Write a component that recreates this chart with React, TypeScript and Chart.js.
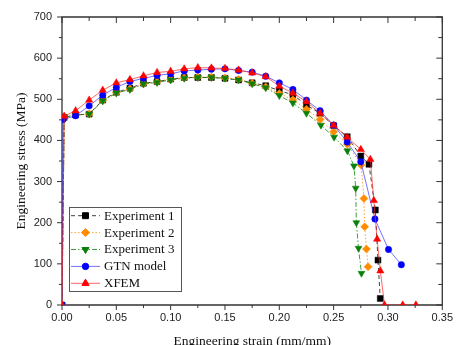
import React, { useEffect, useRef } from 'react';
import { Chart, registerables } from 'chart.js';
import { drawPoint } from 'chart.js/helpers';

Chart.register(...registerables);

// ---- data ----
const exp1Strain = [0, 0.002, 0.0125, 0.025, 0.0375, 0.05, 0.0625, 0.075, 0.0875, 0.1, 0.1125, 0.125, 0.1375, 0.15, 0.1625, 0.175, 0.1875, 0.2, 0.2125, 0.225, 0.2375, 0.25, 0.2625, 0.275, 0.2825, 0.2884, 0.2908, 0.2929];
const exp1Stress = [0, 456, 462, 464, 498, 517, 527, 539, 543, 549, 553, 553, 553, 551, 547, 540, 533, 521, 511, 486, 466, 436, 409, 362, 342, 231, 109, 16];

const exp2Strain = [0, 0.002, 0.0125, 0.025, 0.0375, 0.05, 0.0625, 0.075, 0.0875, 0.1, 0.1125, 0.125, 0.1375, 0.15, 0.1625, 0.175, 0.1875, 0.2, 0.2125, 0.225, 0.2375, 0.25, 0.2626, 0.2752, 0.2779, 0.2786, 0.2802, 0.2817];
const exp2Stress = [0, 456, 462, 464, 497, 516, 525, 538, 542, 548, 552, 554, 554, 552, 548, 539, 530, 514, 499, 476, 451, 421, 391, 340, 259, 190, 136, 93];

const exp3Strain = [0, 0.002, 0.0125, 0.025, 0.0375, 0.05, 0.0625, 0.075, 0.0875, 0.1, 0.1125, 0.125, 0.1375, 0.15, 0.1625, 0.175, 0.1875, 0.2, 0.2125, 0.225, 0.2383, 0.2504, 0.2626, 0.2687, 0.2703, 0.2709, 0.2729, 0.2756];
const exp3Stress = [0, 456, 462, 464, 496, 515, 524, 537, 541, 547, 551, 553, 553, 551, 547, 538, 528, 509, 491, 466, 437, 408, 375, 338, 284, 200, 138, 77];

const gtnStrain = [0, 0.001, 0.0125, 0.025, 0.0375, 0.05, 0.0625, 0.075, 0.0875, 0.1, 0.1125, 0.125, 0.1375, 0.15, 0.1625, 0.175, 0.1875, 0.2, 0.2125, 0.225, 0.2375, 0.25, 0.2625, 0.275, 0.288, 0.3005, 0.3123];
const gtnStress = [0, 451, 460, 484, 510, 529, 543, 551, 558, 562, 569, 571, 573, 574, 570, 566, 556, 540, 524, 498, 472, 437, 396, 348, 209, 135, 98];

const xfemStrain = [0, 0.002, 0.0125, 0.025, 0.0375, 0.05, 0.0625, 0.075, 0.0875, 0.1, 0.1125, 0.125, 0.1375, 0.15, 0.1625, 0.175, 0.1875, 0.2, 0.2125, 0.225, 0.2375, 0.25, 0.2625, 0.275, 0.2838, 0.287, 0.29, 0.293, 0.2968, 0.3136, 0.3257];
const xfemStress = [0, 459, 472, 498, 522, 540, 548, 557, 565, 568, 574, 577, 576, 575, 571, 564, 555, 532, 515, 494, 466, 437, 408, 378, 354, 254, 160, 83, 0, 0, 0];

const seriesLabels = ['Experiment 1', 'Experiment 2', 'Experiment 3', 'GTN model', 'XFEM'];

const xTickValues = [0, 0.05, 0.1, 0.15, 0.2, 0.25, 0.3, 0.35];
const xTickLabels = ['0.00', '0.05', '0.10', '0.15', '0.20', '0.25', '0.30', '0.35'];
const yTickValues = [0, 100, 200, 300, 400, 500, 600, 700];
const yTickLabels = ['0', '100', '200', '300', '400', '500', '600', '700'];
const xMinorStep = 0.025;
const yMinorStep = 50;

const xTitle = 'Engineering strain (mm/mm)';
const yTitle = 'Engineering stress (MPa)';

const toPts = (xs: number[], ys: number[]) => xs.map((x, i) => ({ x, y: ys[i] }));

const framePlugin = {
  id: 'frameTicks',
  beforeDatasetsDraw(chart: any) {
    const { ctx, chartArea, scales } = chart;
    const { left, right, top, bottom } = chartArea;
    const xs = scales.x;
    const ys = scales.y;
    ctx.save();
    ctx.strokeStyle = '#333';
    ctx.lineWidth = 1.3;
    ctx.beginPath();
    ctx.rect(left, top, right - left, bottom - top);
    ctx.stroke();
    ctx.lineWidth = 1;
    ctx.beginPath();
    const nx = Math.round((xs.max - xs.min) / xMinorStep);
    for (let i = 0; i <= nx; i++) {
      const px = xs.getPixelForValue(xs.min + i * xMinorStep);
      const len = i % 2 === 0 ? 5 : 3;
      ctx.moveTo(px, bottom);
      ctx.lineTo(px, bottom + len);
      const lenTop = i % 2 === 0 ? 6 : 4;
      ctx.moveTo(px, top);
      ctx.lineTo(px, top + lenTop);
    }
    const ny = Math.round((ys.max - ys.min) / yMinorStep);
    for (let i = 0; i <= ny; i++) {
      const py = ys.getPixelForValue(ys.min + i * yMinorStep);
      const len = i % 2 === 0 ? 5 : 3;
      ctx.moveTo(left - len, py);
      ctx.lineTo(left, py);
      ctx.moveTo(right - len - 1, py);
      ctx.lineTo(right, py);
    }
    ctx.stroke();
    ctx.restore();
  },
};

const legendPlugin = {
  id: 'insideLegend',
  afterDatasetsDraw(chart: any) {
    const { ctx } = chart;
    const bx = 69, by = 207, bw = 112, bh = 84;
    ctx.save();
    ctx.fillStyle = '#fff';
    ctx.fillRect(bx, by, bw, bh);
    ctx.strokeStyle = '#555';
    ctx.lineWidth = 1;
    ctx.strokeRect(bx + 0.5, by + 0.5, bw, bh);
    chart.data.datasets.forEach((ds: any, i: number) => {
      const y = 215.7 + i * 16.9;
      ctx.save();
      ctx.strokeStyle = ds.borderColor;
      ctx.lineWidth = 1;
      ctx.setLineDash(ds.borderDash || []);
      ctx.beginPath();
      ctx.moveTo(71, y);
      ctx.lineTo(100, y);
      ctx.stroke();
      ctx.setLineDash([]);
      ctx.fillStyle = ds.pointBackgroundColor;
      ctx.strokeStyle = ds.pointBorderColor;
      drawPoint(ctx, {
        pointStyle: ds.pointStyle,
        radius: ds.pointRadius,
        rotation: ds.pointRotation || 0,
        borderWidth: ds.pointBorderWidth,
      }, 85.5, y);
      ctx.restore();
      ctx.fillStyle = '#111';
      ctx.font = '13px "Liberation Serif", "Times New Roman", serif';
      ctx.textBaseline = 'middle';
      ctx.textAlign = 'left';
      ctx.fillText(ds.label, 104, y + 0.5);
    });
    ctx.restore();
  },
};

export default function App() {
  const ref = useRef<HTMLCanvasElement | null>(null);

  useEffect(() => {
    if (!ref.current) return;
    const tickFont = { family: '"Liberation Sans", Arial, sans-serif', size: 11 };
    const titleFont = { family: '"Liberation Serif", "Times New Roman", serif', size: 13.5 };
    const chart = new Chart(ref.current, {
      type: 'scatter',
      data: {
        datasets: [
          {
            label: seriesLabels[0],
            data: toPts(exp1Strain, exp1Stress),
            showLine: true,
            borderColor: 'rgba(0,0,0,0.75)',
            borderWidth: 1,
            borderDash: [4, 3],
            pointStyle: 'rect',
            pointRadius: 4.2,
            pointBackgroundColor: '#000',
            pointBorderColor: '#000',
            pointBorderWidth: 0.5,
            order: 4,
          },
          {
            label: seriesLabels[1],
            data: toPts(exp2Strain, exp2Stress),
            showLine: true,
            borderColor: 'rgba(255,140,0,0.8)',
            borderWidth: 1,
            borderDash: [1.5, 2],
            pointStyle: 'rectRot',
            pointRadius: 4,
            pointBackgroundColor: '#ff8c00',
            pointBorderColor: '#ff8c00',
            pointBorderWidth: 0.5,
            order: 3,
          },
          {
            label: seriesLabels[2],
            data: toPts(exp3Strain, exp3Stress),
            showLine: true,
            borderColor: 'rgba(0,128,0,0.75)',
            borderWidth: 1,
            borderDash: [5, 2, 1.5, 2],
            pointStyle: 'triangle',
            pointRotation: 180,
            pointRadius: 4,
            pointBackgroundColor: '#0a800a',
            pointBorderColor: '#0a800a',
            pointBorderWidth: 0.5,
            order: 2,
          },
          {
            label: seriesLabels[3],
            data: toPts(gtnStrain, gtnStress),
            showLine: true,
            borderColor: 'rgba(40,40,255,0.65)',
            borderWidth: 1,
            pointStyle: 'circle',
            pointRadius: 3.2,
            pointBackgroundColor: '#0000ff',
            pointBorderColor: '#0000ff',
            pointBorderWidth: 0.5,
            order: 1,
          },
          {
            label: seriesLabels[4],
            data: toPts(xfemStrain, xfemStress),
            showLine: true,
            borderColor: 'rgba(255,40,40,0.7)',
            borderWidth: 1,
            pointStyle: 'triangle',
            pointRadius: 4.2,
            pointBackgroundColor: '#ff0000',
            pointBorderColor: '#ff0000',
            pointBorderWidth: 0.5,
            order: 0,
          },
        ],
      },
      options: {
        responsive: false,
        animation: false,
        devicePixelRatio: 1,
        layout: { padding: { top: 17, right: 12, left: 0, bottom: 0 } },
        plugins: {
          legend: { display: false },
          tooltip: { enabled: false },
        },
        elements: { line: { tension: 0 } },
        scales: {
          x: {
            type: 'linear',
            min: 0,
            max: 0.35,
            grid: { display: false, drawTicks: false },
            border: { display: false },
            afterBuildTicks: (scale: any) => {
              scale.ticks = xTickValues.map((v) => ({ value: v }));
            },
            afterFit: (scale: any) => {
              scale.height = 40;
            },
            ticks: {
              padding: 6,
              color: '#222',
              font: tickFont,
              maxRotation: 0,
              autoSkip: false,
              callback: (v: any) => {
                const i = xTickValues.findIndex((t) => Math.abs(t - Number(v)) < 1e-9);
                return i >= 0 ? xTickLabels[i] : '';
              },
            },
            title: {
              display: true,
              text: xTitle,
              color: '#111',
              font: titleFont,
              padding: { top: 0, bottom: -5 },
            },
          },
          y: {
            type: 'linear',
            min: 0,
            max: 700,
            grid: { display: false, drawTicks: false },
            border: { display: false },
            afterBuildTicks: (scale: any) => {
              scale.ticks = yTickValues.map((v) => ({ value: v }));
            },
            afterFit: (scale: any) => {
              scale.width = 62;
            },
            ticks: {
              padding: 10,
              color: '#222',
              font: tickFont,
              autoSkip: false,
              callback: (v: any) => {
                const i = yTickValues.findIndex((t) => Math.abs(t - Number(v)) < 1e-9);
                return i >= 0 ? yTickLabels[i] : '';
              },
            },
            title: {
              display: true,
              text: yTitle,
              color: '#111',
              font: titleFont,
              padding: { top: 13, bottom: 0 },
            },
          },
        },
      } as any,
      plugins: [framePlugin, legendPlugin],
    });
    return () => chart.destroy();
  }, []);

  return (
    <div style={{ position: 'fixed', left: 0, top: 0, width: 459, height: 345, background: '#fff' }}>
      <canvas ref={ref} width={459} height={345} />
    </div>
  );
}
